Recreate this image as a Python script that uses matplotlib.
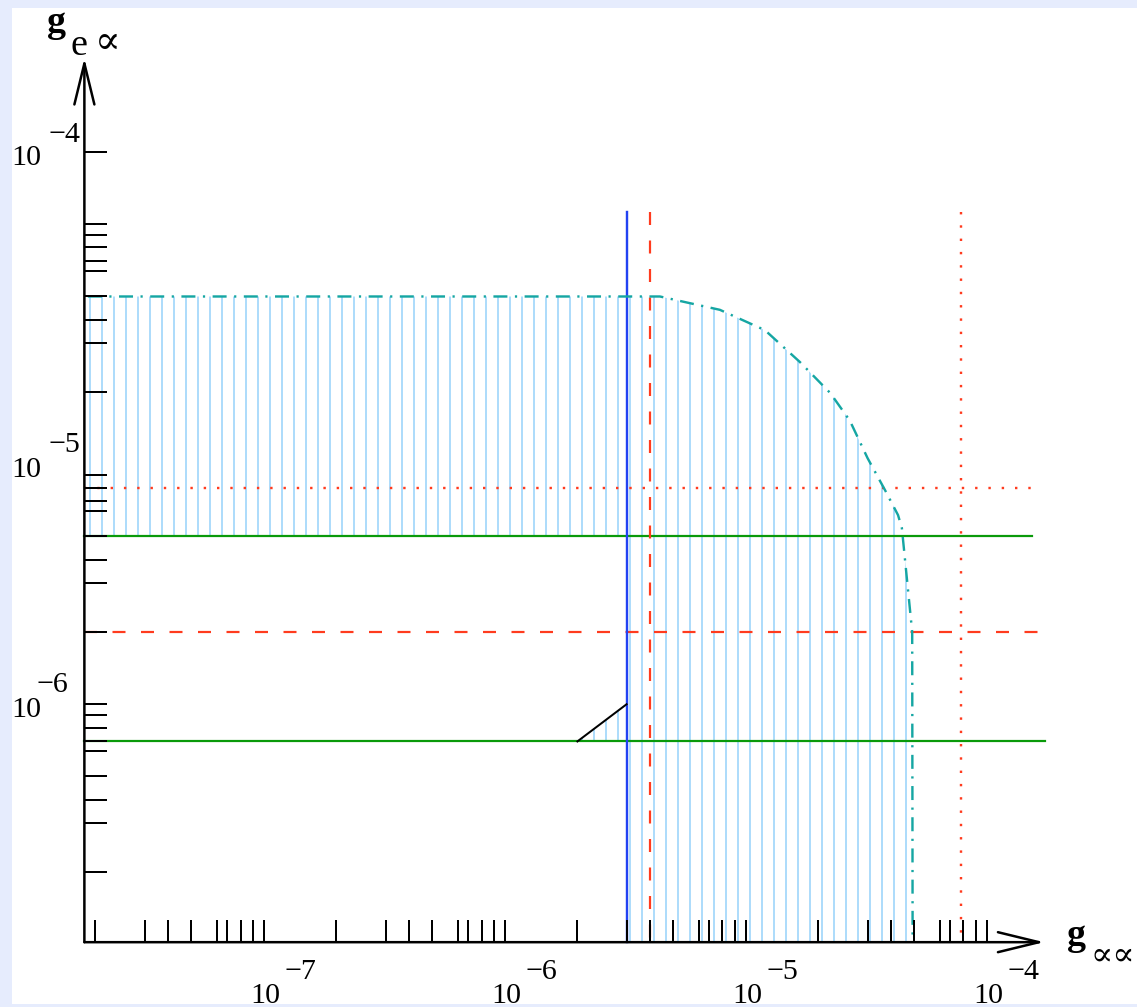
import matplotlib
matplotlib.use('Agg')
import matplotlib.pyplot as plt
from matplotlib.patches import Polygon, Rectangle

W, H, DPI = 1137, 1007, 72   # at 72 dpi one point is one pixel

plt.rcParams['lines.scale_dashes'] = False
plt.rcParams['hatch.linewidth'] = 1.7
plt.rcParams['font.family'] = ['Liberation Serif', 'DejaVu Serif']

# --- data ---
x_org, y_org = 9.0e-9, 5.1e-8        # where the two axes meet
x_tip, y_tip = 8.65e-5, 2.46e-4      # arrow tips

x_decades = [1e-8, 1e-7, 1e-6, 1e-5]
x_steps = [1.6, 2, 2.5, 3.2, 3.5, 4, 4.5, 5]
x_ticks = x_decades + [d * s for d in x_decades for s in x_steps]
y_ticks = [1e-7, 1.6e-7, 2e-7, 2.5e-7, 3.2e-7, 3.5e-7, 4e-7, 4.5e-7, 5e-7,
           1e-6, 1.6e-6, 2e-6, 2.5e-6, 3.2e-6, 3.5e-6, 4e-6, 4.5e-6,
           1e-5, 1.6e-5, 2e-5, 2.5e-5, 3.2e-5, 3.5e-5, 4e-5, 4.5e-5, 5e-5,
           1e-4]
x_labels = ['\u22127', '\u22126', '\u22125', '\u22124']
x_label_at = [1e-7, 1e-6, 1e-5, 1e-4]
y_labels = ['\u22124', '\u22125', '\u22126']

# cyan boundary curve
cyan_x = [9.3e-9, 2.2e-6, 2.9e-6, 3.9e-6, 6.0e-6, 8.4e-6, 1.12e-5, 1.35e-5,
          1.6e-5, 1.89e-5, 2.14e-5, 2.22e-5, 2.45e-5, 2.46e-5]
cyan_y = [2.5e-5, 2.5e-5, 2.35e-5, 2.2e-5, 1.81e-5, 1.33e-5, 9.9e-6, 7.6e-6,
          5.3e-6, 3.9e-6, 3.07e-6, 2.71e-6, 1.0e-6, 5.1e-8]

green_hi, green_hi_end = 2.5e-6, 7.7e-5
green_lo, green_lo_end = 3.5e-7, 8.7e-5
red_dash_y, red_dash_y_end = 1.0e-6, 8.7e-5
red_dot_y, red_dot_y_end = 4.0e-6, 7.7e-5
blue_x = 1.6e-6
red_dash_x = 2.0e-6
red_dot_x = 3.9e-5
vline_top = 5.6e-5
diag_x = [1.0e-6, 1.6e-6]
diag_y = [3.5e-7, 5.0e-7]

# --- figure ---
fig = plt.figure(figsize=(W / DPI, H / DPI), dpi=DPI, facecolor='#e6ecfd')
fig.patches.append(Rectangle((12 / W, 3 / H), 1 - 12 / W, 996 / H,
                             transform=fig.transFigure, facecolor='white',
                             edgecolor='none', zorder=-5))
ax = fig.add_axes([0, 0, 1, 1])
ax.set_xscale('log')
ax.set_yscale('log')
ax.set_xlim(10 ** -8.3959, 10 ** -3.678)
ax.set_ylim(10 ** -7.5625, 10 ** -3.3667)
ax.axis('off')

# hatched region
region = [(x_org, cyan_y[0])] + list(zip(cyan_x[1:], cyan_y[1:])) + [
    (blue_x, y_org), (blue_x, green_lo), (diag_x[0], diag_y[0]),
    (blue_x, diag_y[1]), (blue_x, green_hi), (x_org, green_hi)]
ax.add_patch(Polygon(region, closed=True, facecolor='none',
                     edgecolor='#a0d7fb', linewidth=0, hatch='|', zorder=1))

red = '#ff3b1e'
green = '#0a9a0a'
ax.plot([x_org, green_hi_end], [green_hi, green_hi], color=green, lw=2.2, zorder=2)
ax.plot([x_org, green_lo_end], [green_lo, green_lo], color=green, lw=2.2, zorder=2)
ax.plot([x_org, red_dash_y_end], [red_dash_y, red_dash_y], color=red, lw=2.2,
        ls=(0, (13, 15.5)), zorder=2)
ax.plot([x_org, red_dot_y_end], [red_dot_y, red_dot_y], color=red, lw=2.4,
        ls=(0, (2.4, 10.9)), zorder=2)
ax.plot([red_dash_x, red_dash_x], [vline_top, y_org], color=red, lw=2.2,
        ls=(0, (13, 15.5)), zorder=2)
ax.plot([red_dot_x, red_dot_x], [vline_top, y_org], color=red, lw=2.4,
        ls=(0, (2.4, 10.9)), zorder=2)
ax.plot([blue_x, blue_x], [vline_top, y_org], color='#2242f2', lw=2.4, zorder=2)
ax.plot(cyan_x, cyan_y, color='#15a6a3', lw=2.4,
        ls=(0, (14, 7.5, 2.2, 7.5)), zorder=2)
ax.plot(diag_x, diag_y, color='k', lw=2, zorder=2)

# axes with open arrow heads
arrow = dict(arrowstyle='->,head_length=4.1,head_width=1.0', lw=2.5, color='k',
             shrinkA=0, shrinkB=0, mutation_scale=10)
ax.annotate('', xy=(x_tip, y_org), xytext=(x_org, y_org), arrowprops=arrow, zorder=4)
ax.annotate('', xy=(x_org, y_tip), xytext=(x_org, y_org), arrowprops=arrow, zorder=4)

# ticks
ax.plot(x_ticks, [y_org] * len(x_ticks), ls='none', marker=2, ms=22, mew=2,
        color='k', zorder=3)
ax.plot([x_org] * len(y_ticks), y_ticks, ls='none', marker=1, ms=23, mew=2,
        color='k', zorder=3)

fs = 30
for lab, xv in zip(x_labels, x_label_at):
    ax.annotate('10', xy=(xv, y_org), xytext=(-56, -61), textcoords='offset points',
                ha='right', va='baseline', fontsize=fs)
    ax.annotate(lab, xy=(xv, y_org), xytext=(-52, -37), textcoords='offset points',
                ha='left', va='baseline', fontsize=fs)


def ftext(px, py, s, **kw):
    fig.text(px / W, 1 - py / H, s, va='baseline', **kw)


# y tick labels (placed as in the original)
for lab, base_py, exp_px, exp_py in zip(y_labels, [165, 477, 717],
                                        [49, 49, 36], [142, 452, 692]):
    ftext(41, base_py, '10', ha='right', fontsize=fs)
    ftext(exp_px, exp_py, lab, ha='left', fontsize=fs)

# axis names
ftext(47, 32, 'g', ha='left', fontsize=38, fontweight='bold')
ftext(71, 55, 'e', ha='left', fontsize=38)
ftext(95, 53, '\u221d', ha='left', fontsize=38)
ftext(1067, 945, 'g', ha='left', fontsize=38, fontweight='bold')
ftext(1090, 965, '\u221d\u221d', ha='left', fontsize=33)

fig.savefig('out.png', dpi=DPI, facecolor=fig.get_facecolor())
